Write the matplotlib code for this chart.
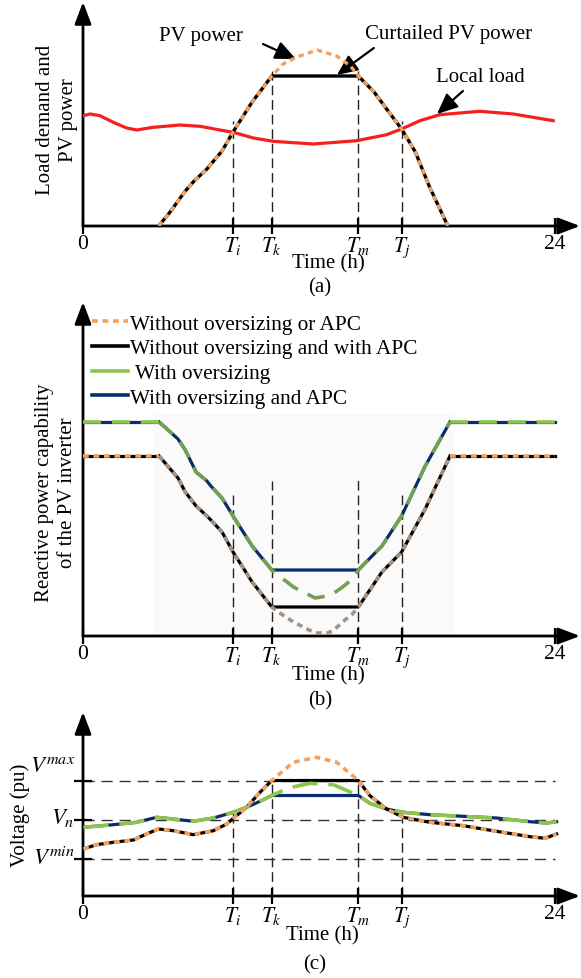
import numpy as np
import matplotlib
matplotlib.use("Agg")
import matplotlib.pyplot as plt
from matplotlib.lines import Line2D
from matplotlib.patches import Rectangle

plt.rcParams['font.family'] = ['Liberation Serif', 'DejaVu Serif']
plt.rcParams['mathtext.fontset'] = 'stix'
plt.rcParams['font.size'] = 15

# ---------------- data ----------------
Ti, Tk, Tm, Tj = 7.63, 9.6, 14.0, 16.2
tick_pos = [0, Ti, Tk, Tm, Tj, 24]
tick_labels = ['0', '$T_i$', '$T_k$', '$T_m$', '$T_j$', '24']

# (a) PV power and local load (arbitrary units)
pv_t = [3.85, 4.43, 5.2, 5.65, 6.3, 7.07, 7.63, 8.6, 9.6, 10.17, 10.88, 11.9,
        12.9, 13.6, 14.0, 14.8, 15.55, 16.2, 16.9, 17.6, 18.55]
pv_v = [0, 14, 35, 45, 57, 75, 94, 124, 150, 162, 169, 176,
        170, 160, 150, 134, 114, 97, 74, 40, 0]
pv_cap = 150
load_t = [0.02, 0.36, 0.86, 1.54, 2.22, 2.73, 3.57, 4.93, 5.95, 6.96, 7.64,
          8.66, 9.67, 11.71, 13.91, 15.44, 16.2, 17.13, 18.15, 20.18, 21.88, 23.91]
load_v = [110.3, 112, 110.3, 103.7, 98, 96, 98.7, 101, 99.7, 96, 93.7,
          88, 84.7, 82, 85.3, 91.3, 97, 105.3, 111.3, 114.7, 112, 105.3]
guide_a = [105, 155, 155, 105]

# (b) reactive power capability
q_t = [0, 3.87, 4.83, 5.2, 5.75, 6.3, 6.5, 7.07, 7.63, 8.6, 9.6, 9.85, 10.7,
       11.8, 12.4, 12.7, 13.2, 13.7, 14.0, 15.2, 16.2, 17.4, 18.66, 24]
q_noover = [180, 180, 158, 144, 130, 120, 116, 104, 84, 54, 29, 25, 14,
            3, 3, 5, 14, 22, 29, 64, 84, 127, 180, 180]
q_over = [214, 214, 197, 186, 164, 155, 150, 138, 120, 90, 66, 62, 49,
          38, 40, 42, 49, 57, 66, 90, 120, 170, 214, 214]
q_cap_noover = 29
q_cap_over = 66
guide_b = [142, 155, 159, 142]

# (c) voltage
vn_t = [0.02, 0.69, 1.54, 2.56, 3.23, 3.83, 4.59, 5.61, 6.63, 7.31, 7.81, 8.32,
        9.0, 9.6, 10.69, 11.88, 12.9, 14.0, 14.59, 15.44, 16.28, 17.64, 19.33,
        21.03, 22.73, 23.49, 24.08]
v_noover = [47, 51.3, 53.7, 56, 62, 67, 65.3, 61.3, 65.3, 72, 80.3, 88.7,
            103.7, 115.5, 133.7, 138.7, 133.7, 115.5, 100.3, 87, 78.7, 73.7, 70.3,
            64.7, 59.3, 57.7, 62]
vo_t = [0.02, 1.54, 2.73, 3.74, 4.59, 5.61, 6.63, 7.64, 8.32, 9.0, 9.6, 10.44,
        11.54, 12.73, 14.0, 14.59, 15.44, 16.28, 17.64, 19.33, 21.03, 22.73,
        23.57, 24.08]
v_over = [68.7, 71.3, 73.7, 78.7, 77, 74.7, 78, 83.7, 88.7, 94.7, 100.5, 108,
          112.7, 111.3, 100.5, 92.7, 87, 83.7, 81.3, 79.7, 78, 74.3,
          73, 74.3]
v_cap_noover = 115.5
v_cap_over = 100.5
Vmax, Vn, Vmin = 115.5, 76, 37
guide_c = [85, 116, 116, 82]

# ---------------- styles ----------------
ORANGE = '#F5A05C'
RED = '#F42020'
GREEN = '#8CC54A'
NAVY = '#0D2A6A'
BROWN = '#A8927F'
OLIVE = '#73A052'

W, H = 581, 979
fig = plt.figure(figsize=(W / 100, H / 100), dpi=100)


def rect(l, r, t, b):
    return [l / W, 1 - b / H, (r - l) / W, (b - t) / H]


def fx(px):
    return px / W


def fy(py):
    return 1 - py / H


XMAX = 24 * (580 - 83) / (555 - 83)


def setup(ax, ymax):
    ax.set_xlim(0, XMAX)
    ax.set_ylim(0, ymax)
    for s in ax.spines.values():
        s.set_visible(False)
    ax.patch.set_alpha(0)
    ax.set_xticks(tick_pos)
    ax.set_xticklabels(tick_labels)
    ax.tick_params(axis='x', direction='inout', length=12, width=1.6, pad=0,
                   labelsize=15.5)
    ax.set_yticks([])
    ap = dict(arrowstyle='-|>,head_length=0.95,head_width=0.36', lw=2.0,
              color='k', shrinkA=0, shrinkB=0, mutation_scale=14)
    ax.annotate('', xy=(1, 0), xytext=(0, 0), xycoords='axes fraction',
                textcoords='axes fraction', arrowprops=ap, annotation_clip=False)
    ax.annotate('', xy=(0, 1), xytext=(0, 0), xycoords='axes fraction',
                textcoords='axes fraction', arrowprops=ap, annotation_clip=False)


def guides(ax, tops):
    ax.vlines([Ti, Tk, Tm, Tj], 0, tops, colors='#222222', lw=1.0,
              linestyles=(0, (7, 3.5)), zorder=1)


# ---------------- (a) ----------------
axa = fig.add_axes(rect(83, 580, 3, 227))
setup(axa, 224)
guides(axa, guide_a)
pv_t_arr = np.array(pv_t)
pv_arr = np.array(pv_v)
axa.plot(load_t, load_v, color=RED, lw=2.3, zorder=3)
axa.plot(pv_t_arr, np.minimum(pv_arr, pv_cap), color='k', lw=2.4, zorder=4)
axa.plot(pv_t_arr, pv_arr, color=ORANGE, lw=2.4, ls=(0, (1.6, 1.3)), zorder=5)
arr = dict(arrowstyle='-|>,head_length=0.9,head_width=0.4', lw=1.6, color='k',
           shrinkA=0, shrinkB=0, mutation_scale=14)
axa.annotate('', xy=(10.83, 167), xytext=(9.15, 182), arrowprops=arr)
axa.annotate('', xy=(12.91, 151), xytext=(14.79, 178), arrowprops=arr)
axa.annotate('', xy=(18.0, 112), xytext=(19.32, 135), arrowprops=arr)
axa.text(6.0, 190, 'PV power', ha='center', va='center')
axa.text(18.6, 192, 'Curtailed PV power', ha='center', va='center')
axa.text(20.23, 150, 'Local load', ha='center', va='center')
fig.text(fx(57), fy(120), 'Load demand and\nPV power', rotation=90,
         ha='center', va='center', multialignment='center', linespacing=1.25)
fig.text(fx(328), fy(264), 'Time (h)', ha='center', va='center')
fig.text(fx(320), fy(288), '(a)', ha='center', va='center')

# ---------------- (b) ----------------
axb = fig.add_axes(rect(83, 580, 303, 637))
setup(axb, 334)
axb.add_patch(Rectangle((3.61, 0), 18.9 - 3.61, 222, facecolor='#fafafa',
                        edgecolor='none', zorder=0))
guides(axb, guide_b)
qt = np.array(q_t)
qn = np.array(q_noover)
qo = np.array(q_over)
flat_l = qt <= 3.87
flat_r = qt >= 18.66
slope = ~(flat_l | flat_r)
slope = slope | np.r_[slope[1:], False] | np.r_[False, slope[:-1]]
for m, oc, gc in [(flat_l, ORANGE, GREEN), (flat_r, ORANGE, GREEN),
                  (slope, BROWN, OLIVE)]:
    axb.plot(qt[m], np.maximum(qo[m], q_cap_over), color=NAVY, lw=2.3, zorder=3)
    axb.plot(qt[m], qo[m], color=gc, lw=2.6, ls=(0, (5, 3)), zorder=4)
    axb.plot(qt[m], np.maximum(qn[m], q_cap_noover), color='k', lw=2.3, zorder=3)
    axb.plot(qt[m], qn[m], color=oc, lw=2.6, ls=(0, (1.6, 1.3)), zorder=4)
h1 = Line2D([], [], color=ORANGE, lw=2.6, ls=(0, (1.6, 1.3)))
h2 = Line2D([], [], color='k', lw=2.6)
h3 = Line2D([], [], color=GREEN, lw=2.6)
h4 = Line2D([], [], color=NAVY, lw=2.6)
leg = axb.legend([h1, h2, h3, h4],
                 ['Without oversizing or APC', 'Without oversizing and with APC',
                  ' With oversizing', 'With oversizing and APC'],
                 loc='upper left', bbox_to_anchor=(fx(92), fy(315)),
                 bbox_transform=fig.transFigure, frameon=False, borderpad=0,
                 borderaxespad=0, handlelength=1.7, handletextpad=0.1,
                 labelspacing=0.22, fontsize=15.3)
fig.text(fx(56), fy(493), 'Reactive power capability\nof the PV inverter',
         rotation=90, ha='center', va='center', multialignment='center',
         linespacing=1.25)
fig.text(fx(328), fy(676), 'Time (h)', ha='center', va='center')
fig.text(fx(320), fy(701), '(b)', ha='center', va='center')

# ---------------- (c) ----------------
axc = fig.add_axes(rect(83, 580, 713, 897))
setup(axc, 184)
axc.set_yticks([Vmax, Vn, Vmin])
axc.set_yticklabels([])
axc.tick_params(axis='y', direction='inout', length=13, width=1.6)
axc.hlines([Vmax, Vn, Vmin], 0, 24, colors='#333333', lw=1.0,
           linestyles=(0, (8, 5)), zorder=1)
guides(axc, guide_c)
vnt = np.array(vn_t)
vot = np.array(vo_t)
vn = np.array(v_noover)
vo = np.array(v_over)
axc.plot(vot, np.minimum(vo, v_cap_over), color=NAVY, lw=2.3, zorder=3)
axc.plot(vot, vo, color=GREEN, lw=2.6, ls=(0, (7, 3)), zorder=4)
axc.plot(vnt, np.minimum(vn, v_cap_noover), color='k', lw=2.3, zorder=3)
axc.plot(vnt, vn, color=ORANGE, lw=2.6, ls=(0, (1.6, 1.3)), zorder=5)
for lab, yv, dy in [('$V^{max}$', Vmax, 11), ('$V_n$', Vn, 2), ('$V^{min}$', Vmin, 1)]:
    axc.annotate(lab, xy=(0, yv), xycoords=('axes fraction', 'data'),
                 xytext=(-6, dy), textcoords='offset points', ha='right',
                 va='center', fontsize=16.5)
fig.text(fx(20), fy(815), 'Voltage (pu)', rotation=90, ha='center', va='center')
fig.text(fx(322), fy(936), 'Time (h)', ha='center', va='center')
fig.text(fx(315), fy(965), '(c)', ha='center', va='center')

fig.savefig('out.png', dpi=100)
